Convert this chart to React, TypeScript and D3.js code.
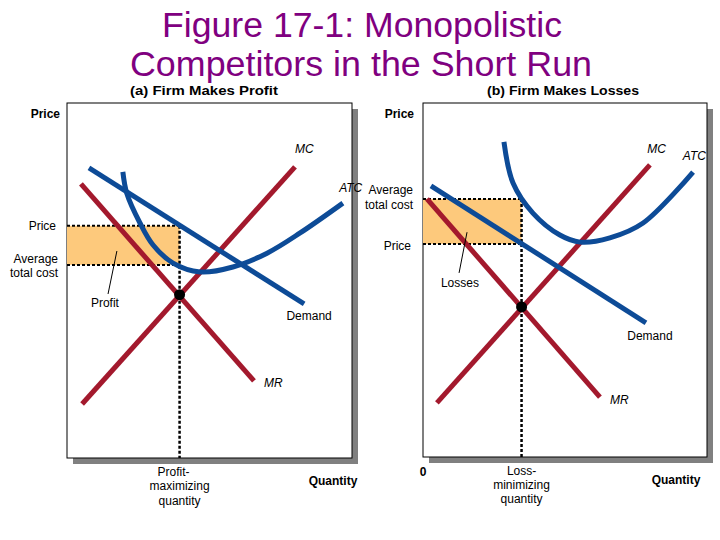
import React from 'react';
import * as d3 from 'd3';

type Pt = [number, number];

// quantity / price in arbitrary units 0-10
const qDomain: Pt = [0, 10];
const pDomain: Pt = [0, 10];

// (a) firm makes profit
const mcA: Pt[] = [[0.53, 1.52], [8.0, 8.2]];
const mrA: Pt[] = [[0.49, 7.72], [6.56, 2.17]];
const demandA: Pt[] = [[0.77, 8.17], [8.32, 4.34]];
const atcA: Pt[] = [[1.96, 8.06], [2.1, 7.45], [2.56, 6.62], [3.02, 6.0], [3.72, 5.49], [4.67, 5.24], [5.82, 5.38], [7.02, 5.77], [8.18, 6.34], [9.68, 7.18]];
const qA = 3.95;
const priceA = 6.54;
const costA = 5.44;
const eqA = 4.6;

// (b) firm makes losses
const mcB: Pt[] = [[0.49, 1.53], [7.99, 8.25]];
const mrB: Pt[] = [[0.14, 7.29], [6.23, 1.69]];
const demandB: Pt[] = [[0.28, 7.66], [7.85, 3.79]];
const atcB: Pt[] = [[2.85, 8.9], [3.17, 7.74], [3.87, 6.89], [4.82, 6.27], [5.53, 6.07], [6.58, 6.19], [7.75, 6.61], [9.51, 8.05]];
const qB = 3.47;
const priceB = 6.02;
const costB = 7.29;
const eqB = 4.24;

const RED = '#a3192d';
const BLUE = '#0d4b97';
const FILL = '#fdc97c';
const FONT = '"Liberation Sans", Arial, sans-serif';

interface PanelProps {
  x0: number; x1: number; y0: number; y1: number;
  mc: Pt[]; mr: Pt[]; demand: Pt[]; atc: Pt[];
  q: number; price: number; cost: number; eq: number;
  children: (x: d3.ScaleLinear<number, number>, y: d3.ScaleLinear<number, number>) => React.ReactNode;
}

const Panel = ({ x0, x1, y0, y1, mc, mr, demand, atc, q, price, cost, eq, children }: PanelProps) => {
  const x = d3.scaleLinear().domain(qDomain).range([x0, x1]);
  const y = d3.scaleLinear().domain(pDomain).range([y1, y0]);
  const line = d3.line<Pt>().x(d => x(d[0])).y(d => y(d[1]));
  const curve = d3.line<Pt>().x(d => x(d[0])).y(d => y(d[1])).curve(d3.curveCatmullRom.alpha(0.5));
  const top = Math.max(price, cost);
  const bot = Math.min(price, cost);
  return (
    <g>
      <rect x={x0 + 6} y={y0 + 6} width={x1 - x0} height={y1 - y0} fill="#808080" />
      <rect x={x0} y={y0} width={x1 - x0} height={y1 - y0} fill="#fff" stroke="#000" strokeWidth={1} />
      <rect x={x0} y={y(top)} width={x(q) - x0} height={y(bot) - y(top)} fill={FILL} />
      <line x1={x0} x2={x(q)} y1={y(price)} y2={y(price)} stroke="#000" strokeWidth={2} strokeDasharray="3,2" />
      <line x1={x0} x2={x(q)} y1={y(cost)} y2={y(cost)} stroke="#000" strokeWidth={2} strokeDasharray="3,2" />
      <line x1={x(q)} x2={x(q)} y1={y(top)} y2={y1} stroke="#000" strokeWidth={2.5} strokeDasharray="3,2" />
      <path d={line(mr) ?? ''} stroke={RED} strokeWidth={5} fill="none" />
      <path d={line(mc) ?? ''} stroke={RED} strokeWidth={5} fill="none" />
      <path d={line(demand) ?? ''} stroke={BLUE} strokeWidth={5} fill="none" />
      <path d={curve(atc) ?? ''} stroke={BLUE} strokeWidth={5} fill="none" />
      <circle cx={x(q)} cy={y(eq)} r={5.5} fill="#000" />
      {children(x, y)}
    </g>
  );
};

const T = ({ x, y, children, anchor = 'start', bold = false, italic = false, size = 12 }: any) => (
  <text x={x} y={y} textAnchor={anchor} fontFamily={FONT} fontSize={size}
    fontWeight={bold ? 'bold' : 'normal'} fontStyle={italic ? 'italic' : 'normal'} fill="#000">{children}</text>
);

const App = () => {
  return (
    <svg width={720} height={540} style={{ position: 'absolute', left: 0, top: 0, background: '#fff' }}>
      <text x={362} y={37} textAnchor="middle" fontFamily={FONT} fontSize={35} fill="#800080"
        textLength={400} lengthAdjust="spacingAndGlyphs">Figure 17-1: Monopolistic</text>
      <text x={361} y={76} textAnchor="middle" fontFamily={FONT} fontSize={35} fill="#800080"
        textLength={462} lengthAdjust="spacingAndGlyphs">Competitors in the Short Run</text>
      <text x={204} y={95} textAnchor="middle" fontFamily={FONT} fontSize={13} fontWeight="bold"
        textLength={148} lengthAdjust="spacingAndGlyphs">(a) Firm Makes Profit</text>
      <text x={563} y={95} textAnchor="middle" fontFamily={FONT} fontSize={13} fontWeight="bold"
        textLength={152} lengthAdjust="spacingAndGlyphs">(b) Firm Makes Losses</text>

      <Panel x0={67} x1={352} y0={103} y1={458} mc={mcA} mr={mrA} demand={demandA} atc={atcA}
        q={qA} price={priceA} cost={costA} eq={eqA}>
        {(x, y) => (
          <g>
            <T x={60} y={118} anchor="end" bold>Price</T>
            <T x={56} y={y(priceA) + 4} anchor="end">Price</T>
            <T x={58} y={y(costA) - 2} anchor="end">Average</T>
            <T x={58} y={y(costA) + 12} anchor="end">total cost</T>
            <line x1={x(1.75)} y1={y(5.83)} x2={x(1.44)} y2={y(4.62)} stroke="#000" strokeWidth={1} />
            <T x={x(1.33)} y={y(4.25)} anchor="middle">Profit</T>
            <T x={x(8.0)} y={y(8.6)} italic>MC</T>
            <T x={x(9.55)} y={y(7.5)} italic>ATC</T>
            <T x={x(8.32) + 5} y={y(3.9)} anchor="middle">Demand</T>
            <T x={x(6.56) + 10} y={y(2.0)} italic>MR</T>
            <T x={x(qA) - 6} y={476} anchor="middle">Profit-</T>
            <T x={x(qA)} y={490} anchor="middle">maximizing</T>
            <T x={x(qA)} y={505} anchor="middle">quantity</T>
            <T x={333} y={485} anchor="middle" bold>Quantity</T>
          </g>
        )}
      </Panel>

      <Panel x0={423} x1={707} y0={103} y1={457} mc={mcB} mr={mrB} demand={demandB} atc={atcB}
        q={qB} price={priceB} cost={costB} eq={eqB}>
        {(x, y) => (
          <g>
            <T x={414} y={118} anchor="end" bold>Price</T>
            <T x={411} y={y(priceB) + 6} anchor="end">Price</T>
            <T x={413} y={y(costB) - 5} anchor="end">Average</T>
            <T x={413} y={y(costB) + 10} anchor="end">total cost</T>
            <line x1={x(1.55)} y1={y(6.35)} x2={x(1.27)} y2={y(5.2)} stroke="#000" strokeWidth={1} />
            <T x={x(1.3)} y={y(4.8)} anchor="middle">Losses</T>
            <T x={x(7.9)} y={y(8.6)} italic>MC</T>
            <T x={x(9.15)} y={y(8.4)} italic>ATC</T>
            <T x={x(7.85) + 4} y={y(3.3)} anchor="middle">Demand</T>
            <T x={x(6.23) + 10} y={y(1.5)} italic>MR</T>
            <T x={423} y={476} anchor="middle" bold>0</T>
            <T x={x(qB)} y={475} anchor="middle">Loss-</T>
            <T x={x(qB)} y={489} anchor="middle">minimizing</T>
            <T x={x(qB)} y={503} anchor="middle">quantity</T>
            <T x={676} y={484} anchor="middle" bold>Quantity</T>
          </g>
        )}
      </Panel>
    </svg>
  );
};

export default App;
